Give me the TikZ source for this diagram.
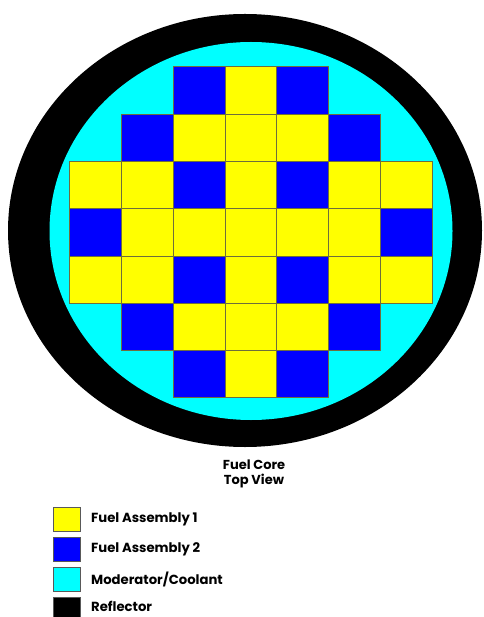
\documentclass[tikz,border=0pt]{standalone}
\usepackage{fontspec}
\setmainfont{Poppins}
\definecolor{fyel}{RGB}{255,255,0}
\definecolor{fblu}{RGB}{0,0,255}
\definecolor{fcya}{RGB}{0,255,255}
\definecolor{gridline}{RGB}{110,110,60}
\tikzset{
  cellY/.style={fill=fyel,draw=gridline,line width=0.5pt},
  cellB/.style={fill=fblu,draw=gridline,line width=0.5pt},
  legbox/.style={draw=gray!70!black,line width=0.4pt,minimum width=27pt,minimum height=24pt,inner sep=0pt,anchor=north west},
  legtext/.style={anchor=west,font=\bfseries\fontsize{13.2}{15}\selectfont,inner sep=0pt},
  title/.style={align=center,font=\bfseries\fontsize{13}{15}\selectfont,inner sep=0pt}
}
\begin{document}
\begin{tikzpicture}[x=1pt,y=-1pt]
\useasboundingbox (0,0) rectangle (483,617);
\fill[white] (0,0) rectangle (483,617);
% reflector and moderator
\fill[black] (245,230.5) ellipse [x radius=237, y radius=216.5];
\fill[fcya] (251,231) ellipse [x radius=201.5, y radius=189];
% core grid
\def\cw{51.86}\def\ch{47.29}
\foreach \r/\row in {0/{0,0,2,1,2,0,0},1/{0,2,1,1,1,2,0},2/{1,1,2,1,2,1,1},3/{2,1,1,1,1,1,2},4/{1,1,2,1,2,1,1},5/{0,2,1,1,1,2,0},6/{0,0,2,1,2,0,0}}{
  \foreach \v [count=\c from 0] in \row {
    \ifnum\v=1
      \draw[cellY] ({69.3+\c*\cw},{66.7+\r*\ch}) rectangle ++(\cw,\ch);
    \fi
    \ifnum\v=2
      \draw[cellB] ({69.3+\c*\cw},{66.7+\r*\ch}) rectangle ++(\cw,\ch);
    \fi
  }
}
% title
\node[title] (title) at (254,473.5) {Fuel Core\\Top View};
% legend
\node[legbox,fill=fyel] (k1) at (53,507) {};
\node[legbox,fill=fblu] (k2) at (53,537) {};
\node[legbox,fill=fcya] (k3) at (53,567) {};
\node[legbox,fill=black,minimum height=20pt] (k4) at (53,597) {};
\node[legtext] (t1) at (91,519) {Fuel Assembly 1};
\node[legtext] (t2) at (91,549) {Fuel Assembly 2};
\node[legtext] (t3) at (91,579) {Moderator/Coolant};
\node[legtext] (t4) at (91,606.5) {Reflector};
\end{tikzpicture}
\end{document}
